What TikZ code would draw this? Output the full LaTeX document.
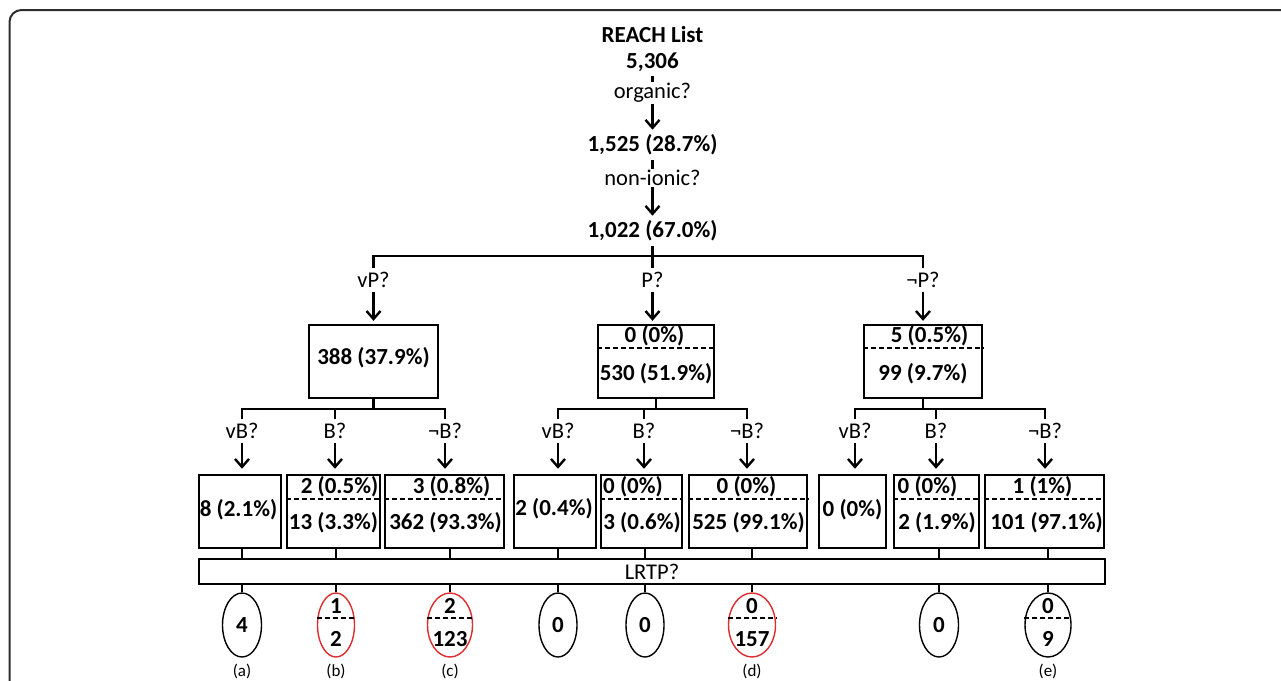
\documentclass[tikz,border=0pt]{standalone}
\usepackage{fontspec}
\setmainfont{Carlito}
\usetikzlibrary{arrows.meta,shapes.geometric}
\begin{document}
\begin{tikzpicture}[x=1pt,y=-1pt,
  lw/.style={line width=2.4pt},
  num/.style={font=\fontsize{23}{23}\selectfont\bfseries, inner sep=0pt, outer sep=5pt},
  q/.style={font=\fontsize{22.5}{22.5}\selectfont, inner sep=0pt, outer sep=4pt},
  bx/.style={draw, line width=2.4pt, inner sep=0pt, minimum height=73pt},
  arr/.style={line width=2.4pt, shorten >=3pt, -{Straight Barb[length=8pt,width=14pt]}},
  dsh/.style={line width=1.3pt, dash pattern=on 5pt off 3pt},
  ell/.style={draw, ellipse, line width=1.4pt, inner sep=0pt, minimum height=64pt},
  redell/.style={ell, draw=ringred},
  enum/.style={font=\fontsize{23}{23}\selectfont\bfseries, inner sep=0pt},
  tag/.style={font=\fontsize{17}{17}\selectfont, inner sep=0pt},
  thin/.style={line width=1.5pt}
]
\definecolor{ringred}{RGB}{222,45,45}
\definecolor{framegray}{RGB}{45,45,45}
\clip (0,0) rectangle (1281,680);
\fill[white] (0,0) rectangle (1281,680);
\draw[line width=2pt, framegray, rounded corners=12pt] (9.5,720) -- (9.5,10) -- (1320,10);

% top chain
\node[num] (reach) at (652.5,35) {REACH List};
\node[num] (n0) at (652.5,62) {5,306};
\node[q, outer sep=1pt] (q1) at (652.5,93) {organic?};
\node[num] (n1) at (652.5,145) {1,525 (28.7\%)};
\node[q, outer sep=1pt] (q2) at (652.5,178) {non-ionic?};
\node[num] (n2) at (652.5,231) {1,022 (67.0\%)};
\draw[lw] (n0) -- (q1);
\draw[arr, shorten >=0pt] (q1) -- (n1);
\draw[lw] (n1) -- (q2);
\draw[arr, shorten >=0pt] (q2) -- (n2);

% first split
\coordinate (jP) at (652.5,256);
\coordinate (jvP) at (373.5,256);
\coordinate (jnP) at (923,256);
\node[q] (qvP) at (373.5,280) {vP?};
\node[q] (qP) at (652.5,280) {P?};
\node[q] (qnP) at (923,280) {¬P?};
\draw[lw] (qvP.north) -- (jvP) -- (jnP) -- (qnP.north);
\draw[lw] (n2) -- (jP) -- (qP.north);

% second-level boxes
\node[bx, minimum width=129pt] (tA) at (373.5,361.5) {};
\node[bx, minimum width=116pt] (tB) at (656,361.5) {};
\node[bx, minimum width=118pt] (tC) at (923,361.5) {};
\draw[arr] (qvP.south) -- (qvP.south |- tA.north);
\draw[arr] (qP.south) -- (qP.south |- tB.north);
\draw[arr] (qnP.south) -- (qnP.south |- tC.north);
\node[num, outer sep=0pt] (tAt) at (373.5,358) {388 (37.9\%)};
\node[num, outer sep=0pt] (tBu) at (654.5,336) {0 (0\%)};
\node[num, outer sep=0pt] (tBl) at (656,374) {530 (51.9\%)};
\node[num, outer sep=0pt] (tCu) at (929.5,336) {5 (0.5\%)};
\node[num, outer sep=0pt] (tCl) at (923,374) {99 (9.7\%)};
\draw[dsh] (tB.west |- 0,348) -- (tB.east |- 0,348);
\draw[dsh] (tC.west |- 0,348) -- (tC.east |- 0,348);

% second split
\coordinate (jA) at (373.5,409);
\coordinate (jB) at (656,409);
\coordinate (jC) at (923,409);
\coordinate (jA1) at (242,409); \coordinate (jA3) at (445,409);
\coordinate (jB1) at (558,409); \coordinate (jB3) at (747,409);
\coordinate (jC1) at (855,409); \coordinate (jC3) at (1045,409);
\node[q] (qA1) at (242,431) {vB?};
\node[q] (qA2) at (335,431) {B?};
\node[q] (qA3) at (445,431) {¬B?};
\node[q] (qB1) at (558,431) {vB?};
\node[q] (qB2) at (644,431) {B?};
\node[q] (qB3) at (747,431) {¬B?};
\node[q] (qC1) at (855,431) {vB?};
\node[q] (qC2) at (936,431) {B?};
\node[q] (qC3) at (1045,431) {¬B?};
\draw[lw] (tA.south) -- (jA);
\draw[lw] (tB.south) -- (jB);
\draw[lw] (tC.south) -- (jC);
\draw[lw] (qA1.north) -- (jA1) -- (jA3) -- (qA3.north);
\draw[lw] (qA2.north) -- (qA2.north |- jA);
\draw[lw] (qB1.north) -- (jB1) -- (jB3) -- (qB3.north);
\draw[lw] (qB2.north) -- (qB2.north |- jB);
\draw[lw] (qC1.north) -- (jC1) -- (jC3) -- (qC3.north);
\draw[lw] (qC2.north) -- (qC2.north |- jC);

% third-level boxes
\node[bx, minimum width=82pt]  (b1) at (240,511.5) {};
\node[bx, minimum width=93pt]  (b2) at (333.5,511.5) {};
\node[bx, minimum width=119pt] (b3) at (444.5,511.5) {};
\node[bx, minimum width=82pt]  (b4) at (555,511.5) {};
\node[bx, minimum width=81pt]  (b5) at (641.5,511.5) {};
\node[bx, minimum width=118pt] (b6) at (748,511.5) {};
\node[bx, minimum width=67pt]  (b7) at (852.5,511.5) {};
\node[bx, minimum width=85pt]  (b8) at (936.5,511.5) {};
\node[bx, minimum width=119pt] (b9) at (1044.5,511.5) {};
\foreach \qq in {A1,A2,A3,B1,B2,B3,C1,C2,C3}{
  \draw[arr] (q\qq.south) -- ++(0,29);
}
\node[num, outer sep=0pt] at (238.5,510) {8 (2.1\%)};
\node[num, outer sep=0pt] at (339.5,487) {2 (0.5\%)};
\node[num, outer sep=0pt] at (333.5,523) {13 (3.3\%)};
\node[num, outer sep=0pt] at (451.5,487) {3 (0.8\%)};
\node[num, outer sep=0pt] at (445.5,523) {362 (93.3\%)};
\node[num, outer sep=0pt] at (554,509) {2 (0.4\%)};
\node[num, outer sep=0pt] at (633,487) {0 (0\%)};
\node[num, outer sep=0pt] at (642,523) {3 (0.6\%)};
\node[num, outer sep=0pt] at (746.5,487) {0 (0\%)};
\node[num, outer sep=0pt] at (748.5,523) {525 (99.1\%)};
\node[num, outer sep=0pt] at (852.5,510) {0 (0\%)};
\node[num, outer sep=0pt] at (927.5,487) {0 (0\%)};
\node[num, outer sep=0pt] at (937,523) {2 (1.9\%)};
\node[num, outer sep=0pt] at (1042.5,487) {1 (1\%)};
\node[num, outer sep=0pt] at (1046.5,523) {101 (97.1\%)};
\foreach \b in {b2,b3,b5,b6,b8,b9}{
  \draw[dsh] (\b.west |- 0,499) -- (\b.east |- 0,499);
}

% LRTP bar
\node[draw, thin, minimum width=906pt, minimum height=25pt, inner sep=0pt,
  font=\fontsize{22.5}{22.5}\selectfont] (lrtp) at (652,571.5) {LRTP?};

% outcome ellipses
\node[ell, minimum width=39pt] (e1) at (242,625) {};
\node[redell, minimum width=37pt] (e2) at (336,625) {};
\node[redell, minimum width=45pt] (e3) at (450,625) {};
\node[ell, minimum width=38pt] (e4) at (558,625) {};
\node[ell, minimum width=38pt] (e5) at (645,625) {};
\node[redell, minimum width=47pt] (e6) at (752,625) {};
\node[ell, minimum width=39pt] (e7) at (939,625) {};
\node[ell, minimum width=46pt] (e8) at (1048,625) {};
\draw[thin] (b1.south -| e1) -- (lrtp.north -| e1);
\draw[thin] (b2.south -| e2) -- (lrtp.north -| e2);
\draw[thin] (b3.south -| e3) -- (lrtp.north -| e3);
\draw[thin] (b4.south -| e4) -- (lrtp.north -| e4);
\draw[thin] (b5.south -| e5) -- (lrtp.north -| e5);
\draw[thin] (b6.south -| e6) -- (lrtp.north -| e6);
\draw[thin] (b8.south -| e7) -- (lrtp.north -| e7);
\draw[thin] (b9.south -| e8) -- (lrtp.north -| e8);
\foreach \e in {e1,e2,e3,e4,e5,e6,e7,e8}{
  \draw[thin] (lrtp.south -| \e) -- (\e.north);
}
\node[enum] at (242,625) {4};
\node[enum] at (336,606) {1};
\node[enum] at (336,639) {2};
\node[enum] at (450,606) {2};
\node[enum] at (450,639) {123};
\node[enum] at (558,625) {0};
\node[enum] at (645,625) {0};
\node[enum] at (752,606) {0};
\node[enum] at (752,639) {157};
\node[enum] at (939,625) {0};
\node[enum] at (1048,606) {0};
\node[enum] at (1048,639) {9};
\foreach \e in {e2,e3,e6,e8}{
  \draw[dsh] (\e.west |- 0,618) -- (\e.east |- 0,618);
}

% tags
\node[tag] at (242,671) {(a)};
\node[tag] at (336,671) {(b)};
\node[tag] at (450,671) {(c)};
\node[tag] at (752,671) {(d)};
\node[tag] at (1048,671) {(e)};
\end{tikzpicture}
\end{document}
